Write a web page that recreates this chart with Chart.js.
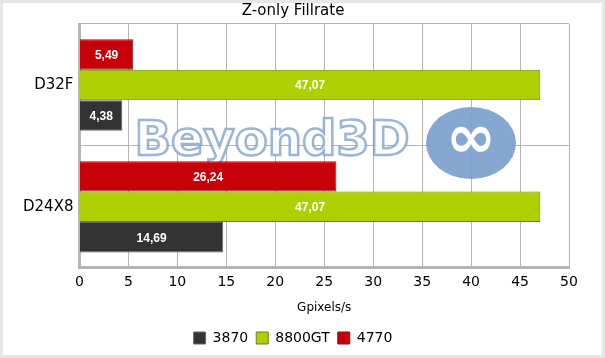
<!DOCTYPE html>
<html>
<head>
  <title>Z-only Fillrate</title>
  <script src="https://cdn.jsdelivr.net/npm/chart.js"></script>
  <style>
    body { margin: 0; background: #e6e6e6; }
    #wrap { width: 605px; height: 358px; }
  </style>
</head>
<body>
  <div id="wrap"><canvas id="fillChart" width="605" height="358"></canvas></div>

  <script>
    var categories = ['D32F', 'D24X8'];
    var seriesNames = ['4770', '8800GT', '3870'];
    var values4770 = [5.49, 26.24];
    var values8800GT = [47.07, 47.07];
    var values3870 = [4.38, 14.69];
    var xTicks = [0, 5, 10, 15, 20, 25, 30, 35, 40, 45, 50];

    var fontFam = '"DejaVu Sans", Verdana, sans-serif';

    // page frame + faint watermark
    var framePlugin = {
      id: 'frame',
      beforeDraw: function(chart) {
        var c = chart.ctx;
        c.save();
        c.fillStyle = '#e6e6e6';
        c.fillRect(0, 0, chart.width, chart.height);
        c.fillStyle = '#ffffff';
        c.fillRect(3, 3, chart.width - 6, chart.height - 6);
        c.restore();
      },
      beforeDatasetsDraw: function(chart) {
        var c = chart.ctx;
        c.save();
        c.font = 'bold 48px ' + fontFam;
        c.textAlign = 'center';
        c.textBaseline = 'middle';
        c.lineWidth = 2.5;
        c.strokeStyle = 'rgba(120,155,205,0.75)';
        c.fillStyle = 'rgba(255,255,255,0.85)';
        c.fillText('Beyond3D', 272, 143);
        c.strokeText('Beyond3D', 272, 143);
        c.fillStyle = 'rgba(128,162,208,0.95)';
        c.beginPath();
        c.ellipse(471, 143, 45, 36, 0, 0, Math.PI * 2);
        c.fill();
        c.fillStyle = '#ffffff';
        c.font = 'bold 60px ' + fontFam;
        c.fillText('\u221E', 471, 141);
        c.restore();
      }
    };

    // value labels inside bars
    var labelPlugin = {
      id: 'barLabels',
      afterDatasetsDraw: function(chart) {
        var c = chart.ctx;
        c.save();
        c.font = 'bold 12px "Liberation Sans Narrow", "Liberation Sans", Arial, sans-serif';
        c.fillStyle = '#ffffff';
        c.textAlign = 'center';
        c.textBaseline = 'middle';
        chart.data.datasets.forEach(function(ds, i) {
          chart.getDatasetMeta(i).data.forEach(function(bar, j) {
            var txt = ds.data[j].toFixed(2).replace('.', ',');
            c.fillText(txt, (bar.x + bar.base) / 2, bar.y + 1);
          });
        });
        c.restore();
      }
    };

    var ctx = document.getElementById('fillChart').getContext('2d');
    var fillChart = new Chart(ctx, {
      type: 'bar',
      data: {
        labels: categories,
        datasets: [{
          label: seriesNames[0],
          data: values4770,
          backgroundColor: '#c8000a',
          borderColor: '#7a1a1a',
          borderWidth: 1
        }, {
          label: seriesNames[1],
          data: values8800GT,
          backgroundColor: '#afd000',
          borderColor: '#6d7d20',
          borderWidth: 1
        }, {
          label: seriesNames[2],
          data: values3870,
          backgroundColor: '#333333',
          borderColor: '#666666',
          borderWidth: 1
        }]
      },
      options: {
        indexAxis: 'y',
        responsive: false,
        animation: false,
        layout: { padding: { left: 17, right: 36, top: 2, bottom: 3 } },
        datasets: {
          bar: { categoryPercentage: 0.75, barPercentage: 1.0 }
        },
        plugins: {
          title: {
            display: true,
            text: 'Z-only Fillrate',
            color: '#000000',
            font: { family: fontFam, size: 15, weight: 'normal' },
            padding: { top: 0, bottom: 4 }
          },
          legend: {
            position: 'bottom',
            reverse: true,
            labels: {
              color: '#000000',
              font: { family: fontFam, size: 14 },
              boxWidth: 12,
              boxHeight: 12,
              padding: 8
            }
          },
          tooltip: { enabled: false }
        },
        scales: {
          x: {
            min: xTicks[0],
            max: xTicks[xTicks.length - 1],
            afterBuildTicks: function(axis) {
              axis.ticks = xTicks.map(function(v) { return { value: v }; });
            },
            grid: { color: '#b4b4b4', drawTicks: false },
            border: { color: '#b4b4b4', width: 3 },
            ticks: {
              color: '#000000',
              padding: 6,
              font: { family: fontFam, size: 14 }
            },
            title: {
              display: true,
              text: 'Gpixels/s',
              color: '#000000',
              font: { family: fontFam, size: 12 },
              padding: { top: 4, bottom: 8 }
            }
          },
          y: {
            grid: { color: '#b4b4b4', drawTicks: false },
            border: { color: '#b4b4b4', width: 3 },
            ticks: {
              color: '#000000',
              padding: 6,
              font: { family: fontFam, size: 15 }
            }
          }
        }
      },
      plugins: [framePlugin, labelPlugin]
    });
  </script>
</body>
</html>
